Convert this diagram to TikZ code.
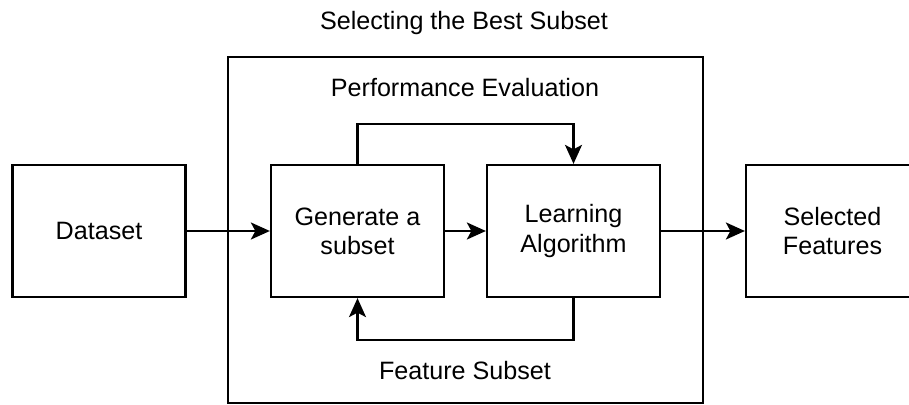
\documentclass[tikz,border=0pt]{standalone}
\usepackage{fontspec}
\setmainfont{Liberation Sans}
\usetikzlibrary{arrows.meta}
\begin{document}
\begin{tikzpicture}[x=0.02cm,y=-0.02cm,
  txt/.style={font=\fontsize{14.3}{16.6}\selectfont},
  box/.style={draw, line width=1.3pt, minimum width=3.46cm, minimum height=2.64cm, align=center, inner sep=0pt, txt},
  lbl/.style={inner sep=0pt, txt},
  frame/.style={draw, line width=1.3pt, minimum width=9.5cm, minimum height=6.92cm, inner sep=0pt},
  conn/.style={line width=1.3pt, -{Stealth[length=0.38cm,width=0.34cm,inset=0.09cm]}}]
\useasboundingbox (0,0) rectangle (909,405);
\clip (0,0) rectangle (909,405);
\node[frame] (outer) at (465.5,230) {};
\node[lbl] (title) at (464,23) {Selecting the Best Subset};
\node[lbl] (perf) at (465,88) {Performance Evaluation};
\node[lbl] (fs) at (465,371) {Feature Subset};
\node[box] (data) at (99,231) {Dataset};
\node[box] (gen) at (357.5,231) {Generate a\\subset};
\node[box] (learn) at (573.5,231) {Learning\\Algorithm};
\node[box] (sel) at (832.5,231) {Selected\\Features};
\coordinate (toploop) at (465,124);
\coordinate (botloop) at (465,340);
\draw[conn] (data) -- (gen);
\draw[conn] (gen) -- (learn);
\draw[conn] (learn) -- (sel);
\draw[conn] (gen.north) |- (toploop) -| (learn.north);
\draw[conn] (learn.south) |- (botloop) -| (gen.south);
\end{tikzpicture}
\end{document}
